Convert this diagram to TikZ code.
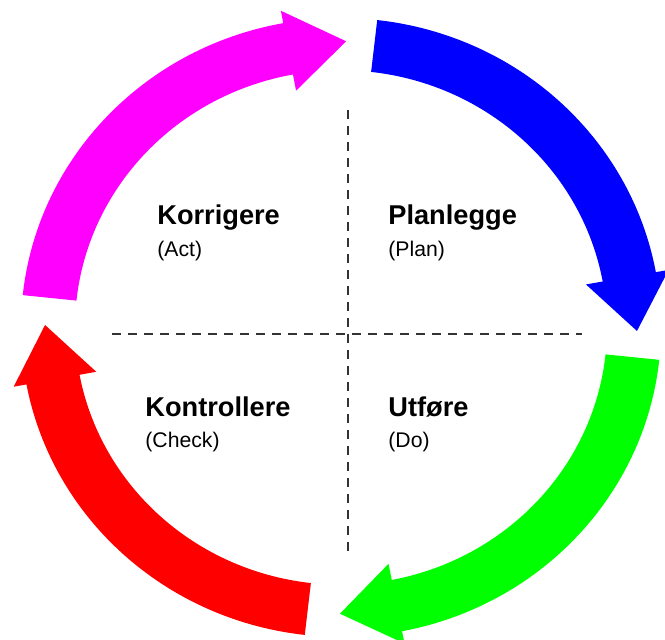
\documentclass[tikz,border=0pt]{standalone}
\usepackage{fontspec}
\setmainfont{Liberation Sans}
\usepackage{tikz}
\definecolor{planblue}{RGB}{0,0,255}
\definecolor{dogreen}{RGB}{0,255,0}
\definecolor{checkred}{RGB}{255,0,0}
\definecolor{actpink}{RGB}{255,0,255}

\begin{document}
\begin{tikzpicture}[x=0.5pt,y=0.5pt,
	title/.style={anchor=base west,inner sep=0pt,font=\fontsize{13.6}{16}\selectfont\bfseries},
	sub/.style={anchor=base west,inner sep=0pt,font=\fontsize{10.6}{13}\selectfont},
	quarter/.style={dash pattern=on 4.5pt off 3.5pt,line width=1.4pt,black!80}]
	\useasboundingbox (0,0) rectangle (665,640);
	% the four arrows of the cycle
	\begin{scope}[shift={(341,312.5)},yscale=0.967]
		\foreach \col/\a/\b/\t in {planblue/83.5/10.3/-0.7, dogreen/-6/-79/-90.2,
			checkred/-96.5/-169.4/-180.5, actpink/174/100.4/89}
			\fill[\col] (\a:320) arc[start angle=\a,end angle=\b,radius=320]
				-- (\b:333) -- (\t:296) -- (\b:249) -- (\b:266)
				arc[start angle=\b,end angle=\a,radius=266] -- cycle;
	\end{scope}
	% dashed cross
	\coordinate (top) at (348,530);
	\coordinate (bottom) at (348,85);
	\coordinate (left) at (112,306);
	\coordinate (right) at (582,306);
	\draw[quarter] (top) -- (bottom);
	\draw[quarter] (left) -- (right);
	% labels
	\node[title] (act) at (157,415) {Korrigere};
	\node[sub] (actsub) at (157,383) {(Act)};
	\node[title] (plan) at (388,415) {Planlegge};
	\node[sub] (plansub) at (388,383) {(Plan)};
	\node[title] (check) at (145,223) {Kontrollere};
	\node[sub] (checksub) at (145,192) {(Check)};
	\node[title] (do) at (388,223) {Utføre};
	\node[sub] (dosub) at (388,192) {(Do)};
\end{tikzpicture}
\end{document}
